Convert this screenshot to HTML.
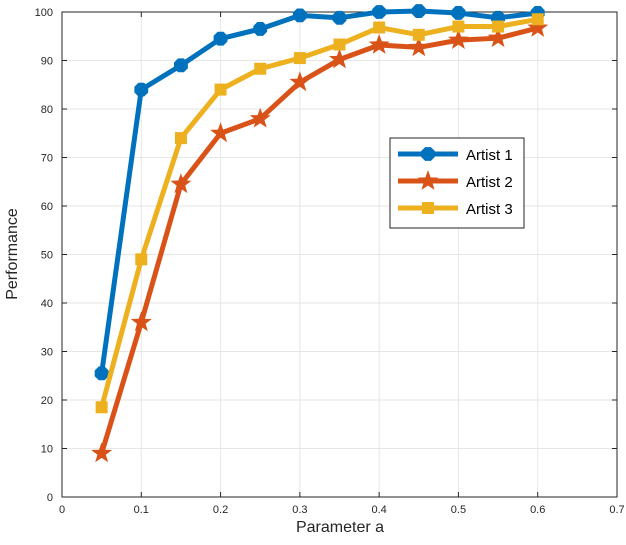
<!DOCTYPE html>
<html><head><meta charset="utf-8"><style>
body{margin:0;background:#fff}
text{font-family:"Liberation Sans",Arial,sans-serif}
</style></head><body>
<svg id="chart" width="626" height="540" xmlns="http://www.w3.org/2000/svg">
<rect width="626" height="540" fill="#fff"/>
<g id="grid"></g>
<g id="axes"></g>
<g id="series"></g>
<text x="340" y="532" font-size="16" text-anchor="middle" fill="#262626">Parameter a</text>
<text transform="translate(17,254) rotate(-90)" font-size="16" text-anchor="middle" fill="#262626">Performance</text>
<g>
<rect x="390" y="138" width="134" height="90" fill="#fff" stroke="#262626" stroke-width="1"/>
<g id="legend-items"></g>
</g>
</svg>
<script>
const xValues=[0.05,0.1,0.15,0.2,0.25,0.3,0.35,0.4,0.45,0.5,0.55,0.6];
const artist1=[25.5,84,89,94.5,96.5,99.3,98.8,100,100.2,99.8,98.8,99.8];
const artist2=[9,36,64.5,75,78,85.5,90.2,93.2,92.7,94.2,94.6,96.7];
const artist3=[18.5,49,74,84,88.3,90.5,93.3,96.8,95.3,97,97,98.5];
const seriesNames=["Artist 1","Artist 2","Artist 3"];
const xTicks=[0,0.1,0.2,0.3,0.4,0.5,0.6,0.7];
const yTicks=[0,10,20,30,40,50,60,70,80,90,100];

const NS="http://www.w3.org/2000/svg";
const L=62,R=617,T=12,B=497;
const xs=v=>L+(v-0)/(0.7)*(R-L);
const ys=v=>B-(v/100)*(B-T);
function mk(tag,attrs,parent){const e=document.createElementNS(NS,tag);for(const k in attrs)e.setAttribute(k,attrs[k]);parent.appendChild(e);return e;}
const grid=document.getElementById('grid'),axes=document.getElementById('axes'),ser=document.getElementById('series');
xTicks.forEach(t=>{const x=xs(t);
 const g=mk('line',{x1:x,x2:x,y1:T,y2:B,stroke:'#e6e6e6','stroke-width':1},grid);
 
 
 const lb=mk('text',{x:x,y:B+16,'font-size':11,'text-anchor':'middle',fill:'#262626'},axes);lb.textContent=t;
 
 
 mk('line',{x1:x,x2:x,y1:B,y2:B-5,stroke:'#262626'},axes);mk('line',{x1:x,x2:x,y1:T,y2:T+5,stroke:'#262626'},axes);
});
yTicks.forEach(t=>{const y=ys(t);
 const g=mk('line',{x1:L,x2:R,y1:y,y2:y,stroke:'#e6e6e6','stroke-width':1},grid);
 
 
 const lb=mk('text',{x:L-9,y:y+4,'font-size':11,'text-anchor':'end',fill:'#262626'},axes);lb.textContent=t;
 
 
 mk('line',{x1:L,x2:L+5,y1:y,y2:y,stroke:'#262626'},axes);mk('line',{x1:R,x2:R-5,y1:y,y2:y,stroke:'#262626'},axes);
});
mk('rect',{x:L,y:T,width:R-L,height:B-T,fill:'none',stroke:'#262626','stroke-width':1},axes);

const colors=['#0072BD','#D95319','#EDB120'];
function marker(type,x,y,c,parent){
 if(type===0){const r=7.5,p=[];for(let i=0;i<8;i++){const a=Math.PI/8+i*Math.PI/4;p.push((x+r*Math.cos(a)).toFixed(1)+','+(y+r*Math.sin(a)).toFixed(1));}return mk('polygon',{points:p.join(' '),fill:c},parent);}
 if(type===1){const p=[];for(let i=0;i<10;i++){const r=i%2?4.5:11;const a=-Math.PI/2+i*Math.PI/5;p.push((x+r*Math.cos(a)).toFixed(1)+','+(y+r*Math.sin(a)).toFixed(1));}return mk('polygon',{points:p.join(' '),fill:c},parent);}
 return mk('rect',{x:x-6,y:y-6,width:12,height:12,fill:c},parent);
}
[artist1,artist2,artist3].forEach((d,si)=>{
 const g=mk('g',{},ser);
 
 
 const pl=mk('polyline',{points:d.map((v,i)=>xs(xValues[i])+','+ys(v)).join(' '),fill:'none',stroke:colors[si],'stroke-width':5,'stroke-linejoin':'round'},g);
 
 
 d.forEach((v,i)=>{const m=marker(si,xs(xValues[i]),ys(v),colors[si],g);
  
  });
});
const li=document.getElementById('legend-items');
seriesNames.forEach((n,si)=>{const y=154+si*27;
 const g=mk('g',{},li);
 
 
 mk('line',{x1:398,x2:458,y1:y,y2:y,stroke:colors[si],'stroke-width':5},g);
 marker(si,428,y,colors[si],g);
 const t=mk('text',{x:466,y:y+6,'font-size':15,fill:'#000'},g);t.textContent=n;
});
</script>
</body></html>
